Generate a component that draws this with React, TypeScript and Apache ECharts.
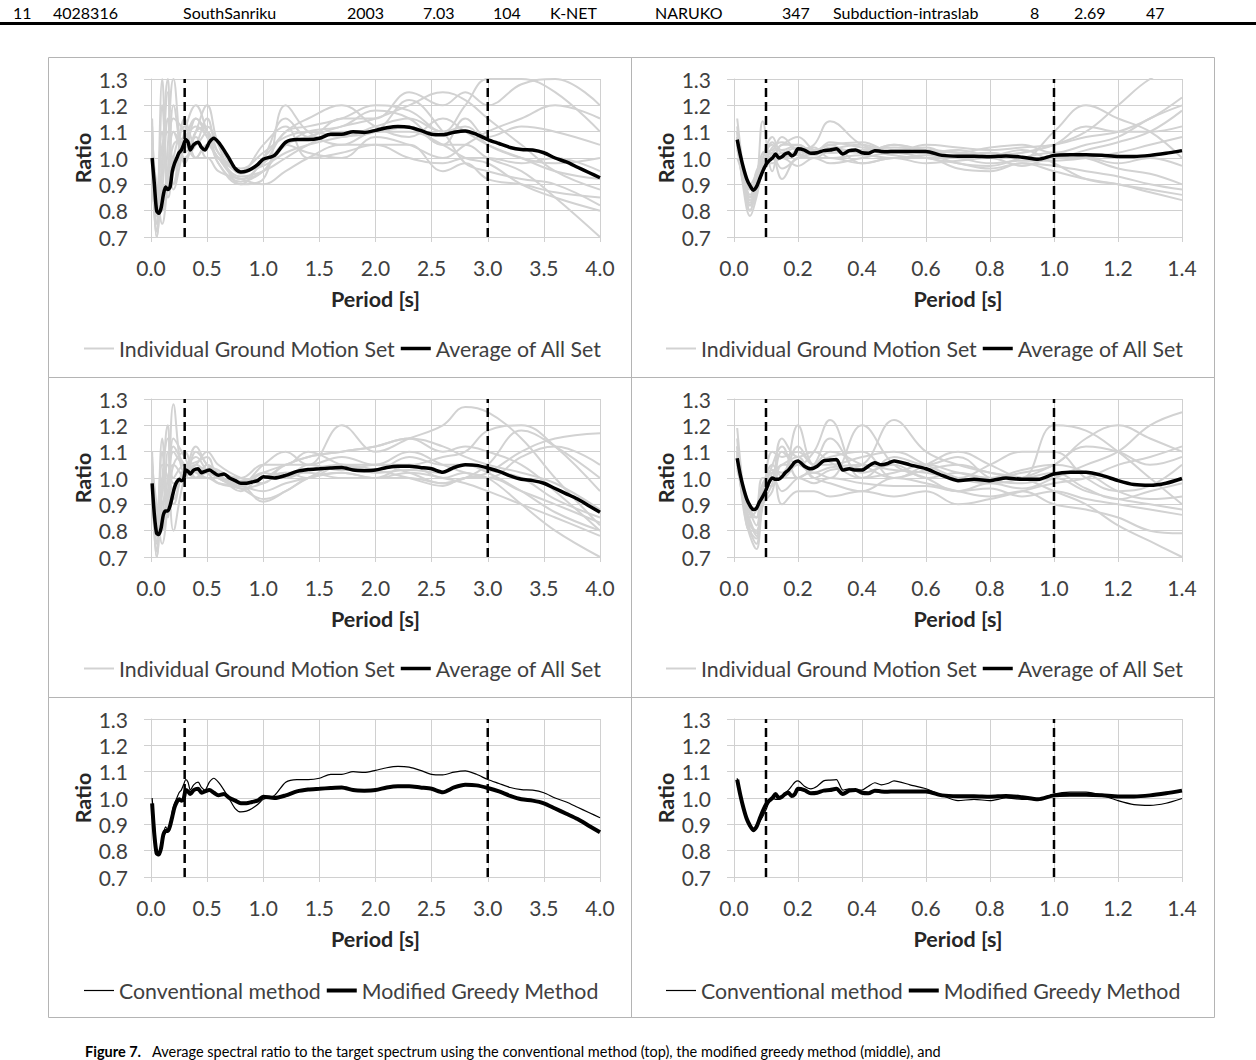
import React, { useEffect, useRef } from "react";
import * as echarts from "echarts";

// ---------------- DATA ----------------
const TABLE_ROW = ["11", "4028316", "SouthSanriku", "2003", "7.03", "104", "K-NET", "NARUKO", "347", "Subduction-intraslab", "8", "2.69", "47"];
const CAPTION_BOLD = "Figure 7.";
const CAPTION_REST = "Average spectral ratio to the target spectrum using the conventional method (top), the modified greedy method (middle), and";

const Y_MIN = 0.7;
const Y_MAX = 1.3;
const DASH_LONG = [0.3, 3.0];
const DASH_SHORT = [0.1, 1.0];

const PERIOD_AVG_LONG = [0.01, 0.03, 0.05, 0.07, 0.09, 0.11, 0.13, 0.15, 0.17, 0.19, 0.21, 0.23, 0.25, 0.27, 0.29, 0.31, 0.33, 0.35, 0.38, 0.42, 0.45, 0.48, 0.52, 0.56, 0.6, 0.65, 0.7, 0.75, 0.8, 0.85, 0.9, 0.95, 1.0, 1.1, 1.2, 1.3, 1.4, 1.5, 1.6, 1.7, 1.8, 1.9, 2.0, 2.1, 2.2, 2.3, 2.4, 2.5, 2.6, 2.7, 2.8, 2.9, 3.0, 3.1, 3.2, 3.3, 3.4, 3.5, 3.6, 3.7, 3.8, 3.9, 4.0];
const AVG_TOP_LEFT = [1.0, 0.9, 0.8, 0.79, 0.81, 0.86, 0.89, 0.88, 0.89, 0.95, 0.98, 1.0, 1.02, 1.03, 1.05, 1.07, 1.06, 1.03, 1.05, 1.06, 1.04, 1.03, 1.06, 1.075, 1.06, 1.03, 0.995, 0.96, 0.947, 0.95, 0.96, 0.975, 0.995, 1.01, 1.06, 1.07, 1.07, 1.075, 1.09, 1.09, 1.1, 1.097, 1.105, 1.115, 1.12, 1.117, 1.105, 1.09, 1.088, 1.098, 1.103, 1.09, 1.07, 1.055, 1.04, 1.032, 1.03, 1.02, 1.0, 0.985, 0.965, 0.945, 0.925];
const AVG_MID_LEFT = [0.98, 0.86, 0.79, 0.785, 0.81, 0.86, 0.875, 0.875, 0.895, 0.93, 0.965, 0.985, 0.995, 0.99, 0.995, 1.03, 1.025, 1.015, 1.03, 1.035, 1.02, 1.025, 1.03, 1.02, 1.01, 1.015, 1.0, 0.99, 0.98, 0.98, 0.985, 0.99, 1.005, 1.0, 1.01, 1.025, 1.032, 1.035, 1.038, 1.04, 1.03, 1.028, 1.03, 1.04, 1.045, 1.045, 1.04, 1.035, 1.022, 1.04, 1.05, 1.048, 1.038, 1.025, 1.008, 0.995, 0.99, 0.98, 0.96, 0.94, 0.92, 0.895, 0.87];

const PERIOD_AVG_SHORT = [0.01, 0.02, 0.03, 0.04, 0.05, 0.06, 0.07, 0.08, 0.09, 0.1, 0.11, 0.12, 0.13, 0.14, 0.15, 0.16, 0.17, 0.18, 0.19, 0.2, 0.22, 0.24, 0.26, 0.28, 0.3, 0.32, 0.34, 0.36, 0.38, 0.4, 0.42, 0.44, 0.46, 0.48, 0.5, 0.55, 0.6, 0.65, 0.7, 0.75, 0.8, 0.85, 0.9, 0.95, 1.0, 1.05, 1.1, 1.15, 1.2, 1.25, 1.3, 1.35, 1.4];
const AVG_TOP_RIGHT = [1.07, 1.01, 0.96, 0.92, 0.895, 0.878, 0.89, 0.92, 0.95, 0.975, 0.99, 1.0, 1.015, 1.0, 1.005, 1.015, 1.02, 1.008, 1.015, 1.035, 1.03, 1.018, 1.02, 1.028, 1.03, 1.035, 1.015, 1.028, 1.03, 1.02, 1.018, 1.028, 1.025, 1.024, 1.025, 1.025, 1.025, 1.01, 1.007, 1.007, 1.005, 1.008, 1.003, 0.995, 1.01, 1.012, 1.012, 1.01, 1.006, 1.006, 1.01, 1.018, 1.028];
const AVG_MID_RIGHT = [1.075, 1.01, 0.96, 0.92, 0.895, 0.88, 0.885, 0.91, 0.93, 0.955, 0.985, 1.0, 0.995, 0.995, 1.005, 1.02, 1.03, 1.045, 1.06, 1.065, 1.045, 1.035, 1.045, 1.065, 1.068, 1.07, 1.03, 1.035, 1.03, 1.03, 1.045, 1.058, 1.05, 1.055, 1.065, 1.05, 1.035, 1.01, 0.99, 0.995, 0.99, 1.0, 0.995, 0.995, 1.015, 1.022, 1.022, 1.01, 0.99, 0.975, 0.972, 0.98, 0.998];

const GX_LONG = [0.01, 0.05, 0.1, 0.15, 0.2, 0.3, 0.4, 0.5, 0.6, 0.8, 1.0, 1.2, 1.4, 1.7, 2.0, 2.3, 2.6, 2.8, 3.0, 3.3, 3.6, 4.0];
const GRAY_TOP_LEFT = [
  [1.15, 0.75, 1.3, 0.9, 1.1, 1.05, 1.15, 1.08, 1.0, 0.92, 0.95, 1.05, 1.08, 1.12, 1.15, 1.2, 1.25, 1.22, 1.15, 1.05, 0.95, 0.88],
  [1.0, 0.7, 0.95, 1.25, 0.9, 1.1, 1.2, 1.1, 0.98, 0.9, 0.92, 1.2, 1.1, 1.05, 1.1, 1.1, 1.05, 1.0, 0.98, 0.9, 0.85, 0.8],
  [0.95, 0.85, 0.8, 1.05, 1.3, 1.0, 1.05, 1.15, 1.02, 0.95, 0.98, 1.1, 1.12, 1.15, 1.2, 1.18, 1.1, 1.2, 1.3, 1.3, 1.25, 1.1],
  [1.05, 0.72, 0.9, 0.85, 1.0, 1.12, 1.0, 1.05, 1.0, 0.93, 0.95, 1.0, 1.05, 1.1, 1.1, 1.12, 1.05, 1.05, 1.0, 0.95, 0.85, 0.7],
  [1.1, 0.8, 1.1, 0.95, 1.2, 0.98, 1.1, 1.2, 1.05, 0.9, 1.0, 1.15, 1.08, 1.15, 1.15, 1.25, 1.2, 1.25, 1.2, 1.28, 1.3, 1.2],
  [0.98, 0.78, 0.88, 1.15, 0.95, 1.05, 1.0, 1.0, 0.95, 0.92, 0.9, 0.95, 1.0, 1.05, 1.05, 1.05, 0.95, 0.98, 0.92, 0.9, 0.87, 0.85],
  [1.02, 0.9, 0.75, 0.9, 1.05, 1.08, 1.12, 1.08, 1.0, 0.96, 1.02, 1.08, 1.1, 1.08, 1.12, 1.15, 1.1, 1.12, 1.05, 1.0, 0.98, 1.0],
  [1.08, 0.82, 0.95, 1.0, 0.9, 1.15, 1.05, 1.1, 0.98, 0.91, 0.95, 1.05, 1.02, 1.0, 1.08, 1.05, 1.0, 1.05, 1.1, 1.15, 1.2, 1.15],
  [0.9, 0.75, 1.2, 0.88, 1.1, 1.02, 1.08, 1.0, 1.0, 0.94, 1.0, 1.1, 1.15, 1.2, 1.12, 1.08, 1.15, 1.1, 1.05, 1.0, 0.95, 0.92],
  [1.0, 0.7, 1.0, 1.3, 1.0, 1.0, 1.1, 1.12, 1.05, 0.95, 0.97, 1.02, 1.05, 1.08, 1.1, 1.22, 1.1, 0.98, 0.95, 0.92, 0.9, 0.82],
  [1.12, 0.88, 0.85, 0.95, 1.15, 1.1, 1.0, 1.05, 1.0, 0.92, 0.98, 1.05, 1.1, 1.12, 1.18, 1.15, 1.05, 1.15, 1.08, 1.12, 1.1, 1.05],
  [1.05, 0.8, 1.05, 1.1, 0.88, 1.05, 1.15, 1.1, 1.02, 0.95, 1.05, 1.12, 1.0, 1.02, 1.05, 1.0, 0.98, 1.0, 1.0, 0.98, 1.0, 0.95],
];
const GRAY_MID_LEFT = [
  [1.1, 0.75, 1.15, 0.9, 1.28, 1.02, 1.05, 1.1, 1.05, 1.0, 0.98, 1.05, 1.05, 1.2, 1.1, 1.15, 1.2, 1.27, 1.25, 1.15, 1.0, 0.82],
  [1.0, 0.7, 0.95, 1.2, 1.0, 1.05, 1.03, 1.0, 1.0, 0.98, 1.02, 1.05, 1.08, 1.1, 1.12, 1.15, 1.1, 1.12, 1.1, 1.05, 0.95, 0.8],
  [0.95, 0.8, 0.85, 1.1, 0.8, 1.0, 1.05, 1.02, 0.98, 0.96, 0.92, 0.95, 1.0, 1.02, 1.0, 1.0, 0.98, 1.0, 1.02, 1.1, 1.15, 1.17],
  [1.05, 0.72, 1.0, 0.85, 1.15, 1.08, 1.0, 1.05, 1.02, 0.95, 1.0, 1.0, 1.03, 1.05, 1.05, 1.1, 1.05, 1.02, 1.0, 0.9, 0.8, 0.7],
  [1.02, 0.85, 0.8, 1.0, 1.05, 1.0, 1.1, 1.05, 1.0, 0.98, 1.05, 1.1, 1.05, 1.08, 1.05, 1.05, 1.08, 1.1, 1.18, 1.2, 1.12, 0.95],
  [0.98, 0.78, 0.9, 0.95, 0.9, 1.03, 1.0, 1.0, 0.98, 0.97, 0.95, 0.98, 1.0, 1.02, 1.0, 1.02, 1.0, 0.98, 0.95, 0.9, 0.85, 0.78],
  [1.05, 0.9, 0.75, 0.9, 1.1, 1.05, 1.08, 1.03, 1.02, 1.0, 1.05, 1.05, 1.1, 1.05, 1.03, 1.08, 1.05, 1.05, 1.03, 1.0, 0.92, 0.85],
  [1.08, 0.82, 0.95, 1.05, 0.95, 1.0, 1.0, 1.05, 1.0, 0.97, 1.0, 1.02, 1.02, 1.0, 1.0, 1.05, 1.0, 1.02, 1.0, 1.08, 1.12, 1.05],
  [0.92, 0.76, 1.1, 0.9, 1.05, 1.1, 1.0, 1.02, 1.0, 0.98, 0.91, 0.95, 1.0, 1.05, 1.03, 1.0, 0.97, 1.0, 1.0, 0.95, 0.9, 0.83],
  [1.0, 0.7, 1.0, 1.15, 0.98, 1.02, 1.12, 1.05, 1.03, 0.99, 1.0, 1.05, 1.08, 1.1, 1.12, 1.15, 1.12, 1.08, 1.05, 1.02, 0.98, 0.88],
  [1.06, 0.88, 0.85, 0.95, 1.12, 1.05, 1.02, 1.0, 1.0, 0.96, 0.98, 1.02, 1.0, 1.05, 1.02, 1.03, 1.02, 1.05, 1.02, 0.95, 0.87, 0.8],
  [1.02, 0.8, 1.05, 1.0, 0.92, 1.04, 1.06, 1.08, 1.0, 0.98, 1.02, 1.0, 1.05, 1.03, 1.05, 1.02, 0.98, 1.0, 1.05, 1.18, 1.12, 1.0],
];

const GX_SHORT = [0.01, 0.03, 0.05, 0.07, 0.09, 0.12, 0.15, 0.2, 0.25, 0.3, 0.4, 0.5, 0.6, 0.7, 0.8, 0.9, 1.0, 1.1, 1.2, 1.3, 1.4];
const GRAY_TOP_RIGHT = [
  [1.15, 0.95, 0.8, 0.88, 1.0, 1.05, 1.0, 1.02, 1.05, 1.14, 1.05, 1.03, 1.04, 1.0, 1.02, 1.0, 1.1, 1.2, 1.15, 1.1, 1.0],
  [1.05, 0.9, 0.85, 0.9, 1.14, 0.95, 1.05, 1.05, 1.02, 1.03, 1.02, 1.05, 1.03, 1.02, 1.0, 1.02, 1.05, 1.1, 1.2, 1.3, 1.35],
  [1.1, 0.88, 0.78, 0.85, 0.95, 1.0, 0.92, 1.0, 1.0, 0.98, 1.0, 1.02, 1.0, 0.98, 0.96, 0.98, 0.95, 0.92, 0.9, 0.87, 0.84],
  [1.08, 0.92, 0.82, 0.9, 1.0, 1.08, 1.02, 1.04, 1.03, 1.05, 1.06, 1.02, 1.05, 1.04, 1.03, 1.04, 1.05, 1.08, 1.1, 1.15, 1.23],
  [1.0, 0.93, 0.85, 0.95, 0.98, 0.98, 1.0, 0.97, 1.0, 1.0, 0.98, 1.0, 0.98, 0.99, 1.0, 0.97, 1.0, 1.0, 0.98, 1.0, 0.97],
  [1.12, 0.9, 0.8, 0.88, 0.95, 1.02, 1.05, 1.08, 1.03, 1.02, 1.03, 1.04, 1.03, 1.02, 1.04, 1.05, 1.02, 1.05, 1.08, 1.15, 1.2],
  [1.05, 0.95, 0.88, 0.92, 1.0, 1.0, 0.96, 1.0, 1.02, 1.05, 0.98, 1.0, 1.0, 0.96, 0.95, 0.98, 0.97, 0.95, 0.93, 0.9, 0.88],
  [1.06, 0.9, 0.83, 0.92, 1.02, 1.03, 1.08, 1.02, 1.0, 1.03, 1.05, 1.02, 1.03, 1.02, 1.01, 1.02, 1.05, 1.12, 1.1, 1.1, 1.12],
  [1.03, 0.94, 0.86, 0.9, 0.98, 1.02, 1.0, 1.03, 1.04, 1.0, 1.01, 1.0, 1.01, 1.0, 0.98, 0.99, 0.99, 1.0, 1.02, 1.05, 1.08],
  [1.1, 0.92, 0.84, 0.87, 0.96, 1.06, 1.03, 1.05, 1.02, 1.06, 1.04, 1.03, 1.02, 1.03, 1.01, 1.03, 0.98, 0.92, 0.9, 0.88, 0.86],
  [1.04, 0.96, 0.9, 0.94, 1.0, 1.0, 1.02, 1.01, 1.03, 1.02, 1.03, 1.01, 1.0, 1.01, 1.02, 1.0, 1.0, 1.03, 1.06, 1.1, 1.18],
  [1.08, 0.91, 0.82, 0.86, 0.97, 1.04, 1.06, 1.03, 1.01, 1.04, 1.02, 1.05, 1.02, 0.98, 0.97, 1.0, 1.02, 1.0, 0.96, 0.94, 0.9],
];
const GRAY_MID_RIGHT = [
  [1.19, 0.95, 0.8, 0.75, 0.95, 1.05, 1.0, 1.2, 1.05, 1.1, 1.05, 1.0, 1.05, 1.1, 1.05, 1.0, 1.2, 1.18, 1.1, 1.0, 0.9],
  [1.1, 0.9, 0.83, 0.78, 0.9, 0.95, 1.1, 1.05, 1.1, 1.22, 1.0, 1.02, 1.05, 1.02, 1.0, 1.02, 1.05, 1.15, 1.2, 1.15, 1.1],
  [1.05, 0.92, 0.85, 0.88, 1.0, 1.0, 0.95, 1.0, 1.02, 1.0, 1.2, 1.05, 1.0, 0.95, 0.98, 0.96, 1.0, 1.05, 1.1, 1.2, 1.25],
  [1.12, 0.88, 0.78, 0.73, 0.9, 1.02, 1.05, 1.08, 1.0, 1.03, 1.05, 1.22, 1.1, 1.05, 1.02, 1.0, 0.95, 0.9, 0.82, 0.76, 0.7],
  [1.08, 0.94, 0.86, 0.85, 0.95, 1.0, 1.0, 1.0, 0.98, 1.0, 0.98, 0.97, 0.97, 0.95, 0.96, 0.93, 0.95, 0.92, 0.9, 0.88, 0.86],
  [1.15, 0.9, 0.8, 0.8, 0.92, 1.1, 1.08, 1.1, 1.05, 1.05, 1.08, 1.1, 1.05, 1.0, 0.98, 1.0, 1.05, 1.12, 1.1, 1.05, 1.08],
  [1.03, 0.95, 0.88, 0.85, 0.97, 0.97, 1.05, 1.05, 1.0, 0.98, 0.95, 1.0, 0.98, 0.95, 0.93, 0.95, 0.9, 0.88, 0.85, 0.8, 0.79],
  [1.1, 0.9, 0.82, 0.8, 0.93, 1.05, 1.12, 1.0, 1.05, 1.15, 1.02, 1.05, 1.0, 1.02, 1.0, 1.03, 1.05, 1.02, 0.95, 0.92, 0.93],
  [1.06, 0.93, 0.87, 0.82, 0.95, 1.0, 1.0, 1.05, 1.02, 1.04, 1.05, 1.03, 1.02, 1.0, 1.05, 1.1, 1.1, 1.0, 0.95, 0.97, 1.05],
  [1.12, 0.91, 0.8, 0.77, 0.9, 0.98, 1.15, 1.08, 1.1, 1.06, 1.0, 1.08, 1.05, 1.08, 1.0, 0.98, 1.0, 0.95, 0.92, 0.9, 0.88],
  [1.04, 0.96, 0.9, 0.88, 0.98, 1.02, 0.9, 0.95, 0.95, 0.93, 0.95, 0.93, 0.95, 0.9, 0.92, 0.95, 0.98, 1.0, 1.05, 1.08, 1.12],
  [1.09, 0.92, 0.84, 0.79, 0.92, 1.03, 1.02, 1.12, 1.05, 1.08, 1.1, 1.0, 1.03, 1.05, 1.02, 1.0, 1.02, 0.96, 0.92, 0.95, 0.98],
];

const NAME_GRAY = "Individual Ground Motion Set";
const NAME_AVG = "Average of All Set";
const NAME_CONV = "Conventional method";
const NAME_MOD = "Modified Greedy Method";

// ---------------- LAYOUT / STYLE ----------------
const FONT = 'Lato, "Noto Sans", sans-serif';
const COL_LEFT = [151, 734];
const COL_W = [449, 448];
const ROW_TOP = [79, 399, 719];
const GRID_H = 158;
const PANEL_X = [48, 631];
const PANEL_W = 583;
const PANEL_Y = [57, 377, 697];
const PANEL_H = 320;
const LEGEND_LEFT = [84, 666];
const LEGEND_TOP = [338, 658, 980];
const TABLE_X = [13, 53, 183, 347, 423, 493, 550, 655, 782, 833, 1030, 1074, 1146];
const GRID_COLOR = "#d0d0d0";
const GRAY_LINE = "#d2d2d2";
const W_GRAY = 2;
const W_AVG = 3.5;
const W_THIN = 1.2;
const W_THICK = 4;

const lineIcon = (w: number) => `path://M0,0H30V${w}H0Z`;

type LineDef = { name: string; x: number[]; y: number[]; width: number };
type Panel = { xMax: number; xInterval: number; grayX?: number[]; gray?: number[][]; dashes: number[]; lines: LineDef[]; legend: { name: string; w: number }[] };

const PANELS: Panel[] = [
  { xMax: 4, xInterval: 0.5, grayX: GX_LONG, gray: GRAY_TOP_LEFT, dashes: DASH_LONG, lines: [{ name: NAME_AVG, x: PERIOD_AVG_LONG, y: AVG_TOP_LEFT, width: W_AVG }], legend: [{ name: NAME_GRAY, w: W_GRAY }, { name: NAME_AVG, w: W_AVG }] },
  { xMax: 1.4, xInterval: 0.2, grayX: GX_SHORT, gray: GRAY_TOP_RIGHT, dashes: DASH_SHORT, lines: [{ name: NAME_AVG, x: PERIOD_AVG_SHORT, y: AVG_TOP_RIGHT, width: W_AVG }], legend: [{ name: NAME_GRAY, w: W_GRAY }, { name: NAME_AVG, w: W_AVG }] },
  { xMax: 4, xInterval: 0.5, grayX: GX_LONG, gray: GRAY_MID_LEFT, dashes: DASH_LONG, lines: [{ name: NAME_AVG, x: PERIOD_AVG_LONG, y: AVG_MID_LEFT, width: W_AVG }], legend: [{ name: NAME_GRAY, w: W_GRAY }, { name: NAME_AVG, w: W_AVG }] },
  { xMax: 1.4, xInterval: 0.2, grayX: GX_SHORT, gray: GRAY_MID_RIGHT, dashes: DASH_SHORT, lines: [{ name: NAME_AVG, x: PERIOD_AVG_SHORT, y: AVG_MID_RIGHT, width: W_AVG }], legend: [{ name: NAME_GRAY, w: W_GRAY }, { name: NAME_AVG, w: W_AVG }] },
  { xMax: 4, xInterval: 0.5, dashes: DASH_LONG, lines: [{ name: NAME_CONV, x: PERIOD_AVG_LONG, y: AVG_TOP_LEFT, width: W_THIN }, { name: NAME_MOD, x: PERIOD_AVG_LONG, y: AVG_MID_LEFT, width: W_THICK }], legend: [{ name: NAME_CONV, w: W_THIN }, { name: NAME_MOD, w: W_THICK }] },
  { xMax: 1.4, xInterval: 0.2, dashes: DASH_SHORT, lines: [{ name: NAME_CONV, x: PERIOD_AVG_SHORT, y: AVG_MID_RIGHT, width: W_THIN }, { name: NAME_MOD, x: PERIOD_AVG_SHORT, y: AVG_TOP_RIGHT, width: W_THICK }], legend: [{ name: NAME_CONV, w: W_THIN }, { name: NAME_MOD, w: W_THICK }] },
];

const zip = (xs: number[], ys: number[]) => {
  const n = Math.min(xs.length, ys.length);
  const out: number[][] = [];
  for (let i = 0; i < n; i++) out.push([xs[i], ys[i]]);
  return out;
};

function buildOption() {
  const grid: any[] = [];
  const xAxis: any[] = [];
  const yAxis: any[] = [];
  const series: any[] = [];
  const legend: any[] = [];
  const graphic: any[] = [];

  // table row above the figure
  TABLE_ROW.forEach((t, k) => {
    graphic.push({ type: "text", x: TABLE_X[k], y: 12, style: { text: t, fontFamily: FONT, fontSize: 16, fill: "#000", verticalAlign: "middle" } });
  });
  graphic.push({ type: "rect", shape: { x: 0, y: 22, width: 1256, height: 3 }, style: { fill: "#000" } });

  // panel borders
  for (let r = 0; r < 3; r++) {
    for (let c = 0; c < 2; c++) {
      graphic.push({ type: "rect", shape: { x: PANEL_X[c] + 0.5, y: PANEL_Y[r] + 0.5, width: PANEL_W, height: PANEL_H }, style: { fill: "none", stroke: "#b4b4b4", lineWidth: 1 } });
    }
  }

  // caption
  graphic.push({ type: "text", x: 85, y: 1044, style: { text: CAPTION_BOLD, fontFamily: FONT, fontSize: 14.5, fontWeight: "bold", fill: "#000" } });
  graphic.push({ type: "text", x: 152, y: 1044, style: { text: CAPTION_REST, fontFamily: FONT, fontSize: 14.5, fill: "#000" } });

  PANELS.forEach((p, i) => {
    const col = i % 2;
    const row = Math.floor(i / 2);
    grid.push({ left: COL_LEFT[col], top: ROW_TOP[row], width: COL_W[col], height: GRID_H });
    xAxis.push({
      type: "value", gridIndex: i, min: 0, max: p.xMax, interval: p.xInterval,
      name: "Period [s]", nameLocation: "middle", nameGap: 51,
      nameTextStyle: { fontFamily: FONT, fontSize: 21.5, fontWeight: "bold", color: "#262626" },
      axisLine: { show: true, lineStyle: { color: GRID_COLOR } },
      axisTick: { show: true, length: 5, lineStyle: { color: GRID_COLOR } },
      axisLabel: { margin: 20, fontFamily: FONT, fontSize: 21, color: "#404040", formatter: (v: number) => v.toFixed(1) },
      splitLine: { show: true, lineStyle: { color: GRID_COLOR, width: 1 } },
    });
    yAxis.push({
      type: "value", gridIndex: i, min: Y_MIN, max: Y_MAX, interval: 0.1,
      name: "Ratio", nameLocation: "middle", nameGap: 57,
      nameTextStyle: { fontFamily: FONT, fontSize: 21.5, fontWeight: "bold", color: "#262626" },
      axisLine: { show: true, lineStyle: { color: GRID_COLOR } },
      axisTick: { show: true, length: 7, lineStyle: { color: GRID_COLOR } },
      axisLabel: { margin: 23, fontFamily: FONT, fontSize: 21, color: "#404040", formatter: (v: number) => v.toFixed(1) },
      splitLine: { show: true, lineStyle: { color: GRID_COLOR, width: 1 } },
    });

    if (p.gray && p.grayX) {
      p.gray.forEach((ys) => {
        series.push({
          type: "line", name: NAME_GRAY, xAxisIndex: i, yAxisIndex: i, data: zip(p.grayX!, ys),
          symbol: "none", smooth: 0.4, silent: true,
          lineStyle: { color: GRAY_LINE, width: W_GRAY }, itemStyle: { color: GRAY_LINE },
        });
      });
    }
    p.dashes.forEach((d) => {
      series.push({
        type: "line", name: "dash", xAxisIndex: i, yAxisIndex: i, data: [[d, Y_MIN], [d, Y_MAX]],
        symbol: "none", silent: true,
        lineStyle: { color: "#000", width: 2.5, type: [9, 5] }, itemStyle: { color: "#000" },
      });
    });
    p.lines.forEach((l) => {
      series.push({
        type: "line", name: l.name, xAxisIndex: i, yAxisIndex: i, data: zip(l.x, l.y),
        symbol: "none", smooth: 0.25, silent: true,
        lineStyle: { color: "#000", width: l.width }, itemStyle: { color: "#000" },
      });
    });

    legend.push({
      data: p.legend.map((it) => ({ name: it.name, icon: lineIcon(it.w) })),
      left: LEGEND_LEFT[col], top: LEGEND_TOP[row], orient: "horizontal", padding: 0,
      itemWidth: 30, itemHeight: 14, itemGap: 6, selectedMode: false,
      textStyle: { fontFamily: FONT, fontSize: 21.3, color: "#404040" },
    });
  });

  return { animation: false, backgroundColor: "#fff", grid, xAxis, yAxis, series, legend, graphic };
}

export default function App() {
  const ref = useRef<HTMLDivElement>(null);
  useEffect(() => {
    if (!ref.current) return;
    const chart = echarts.init(ref.current, undefined, { renderer: "svg" });
    chart.setOption(buildOption() as any);
    return () => chart.dispose();
  }, []);
  return <div ref={ref} style={{ position: "absolute", left: 0, top: 0, width: 1256, height: 1060, background: "#fff" }} />;
}
